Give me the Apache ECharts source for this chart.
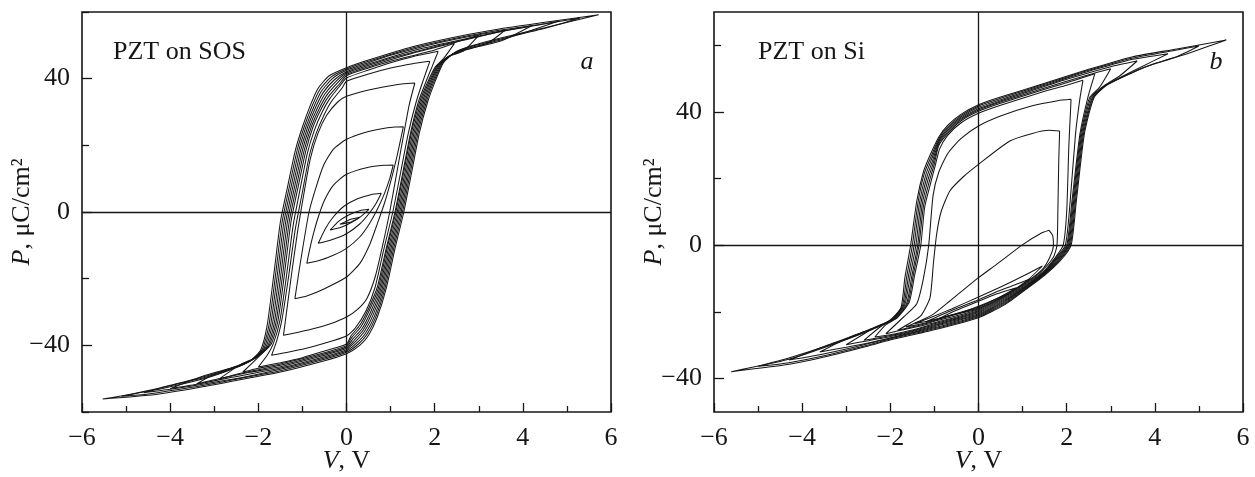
<!DOCTYPE html>
<html>
<head>
<meta charset="utf-8">
<script src="https://cdn.jsdelivr.net/npm/echarts@6/dist/echarts.min.js"></script>
<style>
html, body { margin: 0; padding: 0; background: #ffffff; }
#chart { width: 1255px; height: 477px; }
</style>
</head>
<body>
<div id="chart"></div>
<script>
// Axis ranges and tick labels
const xTicks = [-6, -4, -2, 0, 2, 4, 6];
const yLabelsA = [-40, 0, 40];
const yMinorA = [-60, -20, 20, 60];
const yLabelsB = [-40, 0, 40];
const yMinorB = [-20, 20, 60];
const panelTitles = ['PZT on SOS', 'PZT on Si'];
const panelLetters = ['a', 'b'];

// PZT on SOS: hysteresis loops, each listed as [V, P] going round the loop
// (upper branch from +Vmax to -Vmax, then lower branch back to +Vmax)
const sosLoop1 = [[5.72,59.2],[4.5,56.9],[3.5,55.0],[2.5,52.6],[1.5,49.6],[0.5,45.6],[0,43.3],[-0.4,40.8],[-0.65,37],[-0.83,31.7],[-1.0,25.5],[-1.16,18.5],[-1.33,8],[-1.5,-3],[-1.66,-20],[-1.8,-34],[-1.95,-41.5],[-2.2,-44.8],[-2.6,-47.2],[-3.2,-49.9],[-4.2,-53],[-5.53,-56.1],
  [-4.5,-55.0],[-3.5,-53.0],[-2.6,-50.8],[-1.5,-48.0],[-0.5,-44.6],[0,-42.5],[0.3,-40],[0.5,-37],[0.7,-31.5],[0.9,-23],[1.1,-11],[1.3,0],[1.48,12],[1.65,23.6],[1.84,33],[2.02,39.5],[2.2,44.8],[2.45,47.8],[2.8,49.7],[3.5,52.2],[4.5,55.3],[5.72,59.2]];
const sosLoop2 = [[5.3,58.2],[4.5,56.5],[3.5,54.6],[2.5,52.2],[1.5,49.2],[0.5,45.2],[0,42.9],[-0.36,40.4],[-0.61,36.6],[-0.79,31.5],[-0.96,25.5],[-1.12,18.5],[-1.29,8],[-1.46,-3],[-1.62,-20],[-1.76,-34],[-1.91,-41.2],[-2.16,-44.5],[-2.56,-46.9],[-3.2,-49.6],[-4.2,-52.7],[-5.1,-55.3],
  [-4.5,-54.6],[-3.5,-52.6],[-2.6,-50.4],[-1.5,-47.6],[-0.5,-44.2],[0,-42.1],[0.27,-39.6],[0.47,-36.6],[0.67,-31.3],[0.87,-23],[1.07,-11],[1.27,0],[1.45,12],[1.62,23.6],[1.81,33],[1.99,39.4],[2.17,44.6],[2.42,47.5],[2.77,49.4],[3.5,51.9],[4.5,55.1],[5.3,58.2]];
const sosLoop3 = [[4.8,57.2],[4.0,55.3],[3.0,53.2],[2.0,50.5],[1.0,47.0],[0.5,44.8],[0,42.5],[-0.32,40.0],[-0.57,36.2],[-0.75,31.3],[-0.92,25.5],[-1.08,18.5],[-1.25,8],[-1.42,-3],[-1.58,-20],[-1.72,-33.8],[-1.87,-40.9],[-2.12,-44.2],[-2.52,-46.6],[-3.2,-49.3],[-4.0,-52.0],[-4.6,-54.2],
  [-4.0,-53.2],[-3.0,-51.1],[-2.2,-49.2],[-1.5,-47.2],[-0.5,-43.8],[0,-41.7],[0.24,-39.2],[0.44,-36.2],[0.64,-31.1],[0.84,-23],[1.04,-11],[1.24,0],[1.42,12],[1.59,23.6],[1.78,33],[1.96,39.3],[2.14,44.4],[2.39,47.2],[2.74,49.1],[3.5,51.6],[4.2,54.5],[4.8,57.2]];
const sosLoop4 = [[4.2,55.9],[3.5,54.1],[2.5,51.4],[1.5,48.4],[0.5,44.4],[0,42.1],[-0.28,39.6],[-0.53,35.8],[-0.71,31.1],[-0.88,25.5],[-1.04,18.5],[-1.21,8],[-1.38,-3],[-1.54,-20],[-1.68,-33.6],[-1.83,-40.6],[-2.08,-43.9],[-2.48,-46.3],[-3.2,-49.0],[-4.0,-53.0],
  [-3.4,-51.7],[-2.6,-49.6],[-1.5,-46.8],[-0.5,-43.4],[0,-41.3],[0.21,-38.8],[0.41,-35.8],[0.61,-30.7],[0.81,-23],[1.01,-11],[1.21,0],[1.39,12],[1.56,23.6],[1.75,33],[1.93,39.2],[2.11,44.2],[2.36,47.0],[2.71,48.8],[3.5,51.3],[4.2,55.9]];
const sosLoop5 = [[3.6,54.6],[3.0,52.6],[2.0,49.6],[1.0,46.1],[0.5,44.0],[0,41.7],[-0.24,39.2],[-0.49,35.4],[-0.67,30.9],[-0.84,25.5],[-1.0,18.5],[-1.17,8],[-1.34,-3],[-1.5,-20],[-1.64,-33.4],[-1.79,-40.3],[-2.04,-43.6],[-2.44,-46.0],[-3.0,-48.6],[-3.4,-51.6],
  [-2.9,-50.0],[-2.2,-48.1],[-1.5,-46.4],[-0.5,-43.0],[0,-40.9],[0.18,-38.4],[0.38,-35.4],[0.58,-30.3],[0.78,-23],[0.98,-11],[1.18,0],[1.36,12],[1.53,23.6],[1.72,33],[1.9,39.1],[2.08,44.0],[2.33,46.8],[2.68,48.5],[3.2,50.6],[3.6,54.6]];
const sosLoop6 = [[3.0,53.0],[2.5,51.0],[1.5,47.6],[0.5,43.6],[0,41.3],[-0.2,38.8],[-0.45,35],[-0.63,30.7],[-0.8,25.5],[-0.96,18.5],[-1.13,8],[-1.3,-3],[-1.46,-20],[-1.6,-33.2],[-1.75,-40],[-2.0,-43.3],[-2.4,-45.7],[-2.9,-50.2],
  [-2.4,-48.4],[-1.5,-46.0],[-0.5,-42.6],[0,-40.5],[0.15,-38],[0.35,-35],[0.55,-29.9],[0.75,-23],[0.95,-11],[1.15,0],[1.33,12],[1.5,23.6],[1.69,33],[1.87,39.0],[2.05,43.8],[2.3,46.6],[2.65,48.3],[3.0,53.0]];
const sosLoop7 = [[2.45,50.6],[2.0,48.6],[1.0,45.2],[0.5,43.2],[0,40.9],[-0.16,38.4],[-0.41,34.6],[-0.59,30.5],[-0.76,25.5],[-0.92,18.5],[-1.09,8],[-1.26,-3],[-1.42,-20],[-1.56,-33],[-1.71,-39.7],[-1.96,-43],[-2.35,-48],
  [-2.0,-46.9],[-1.5,-45.6],[-0.5,-42.2],[0,-40.1],[0.12,-37.6],[0.32,-34.6],[0.52,-29.5],[0.72,-23],[0.92,-11],[1.12,0],[1.3,12],[1.47,23.6],[1.66,33],[1.84,38.9],[2.02,43.6],[2.2,46],[2.45,50.6]];
const sosLoop8 = [[2.08,48.2],[1.5,46.6],[1.0,44.8],[0.5,42.6],[0,40.2],[-0.14,38],[-0.38,34],[-0.56,29.8],[-0.73,24.5],[-0.89,17.5],[-1.05,7],[-1.21,-4],[-1.37,-20],[-1.51,-32.5],[-1.66,-39.5],[-1.8,-43],[-2.0,-46.5],
  [-1.5,-45.2],[-1.0,-43.7],[-0.5,-41.7],[0,-39.6],[0.1,-37.2],[0.3,-34],[0.5,-29],[0.7,-22.5],[0.9,-11],[1.1,0],[1.28,12],[1.45,23.5],[1.63,33],[1.8,39],[1.96,44.2],[2.08,48.2]];
const sosLoop9 = [[1.89,45.2],[1.5,44.5],[1.0,43.2],[0.5,41.4],[0,39.2],[-0.1,37.2],[-0.34,33.2],[-0.52,28.8],[-0.69,23.5],[-0.85,16.5],[-1.0,6],[-1.16,-5],[-1.32,-20],[-1.46,-32],[-1.58,-38.5],[-1.7,-43],
  [-1.4,-42.2],[-1.0,-41.2],[-0.5,-39.4],[0,-37.2],[0.2,-34.8],[0.45,-29.5],[0.65,-22.5],[0.85,-11],[1.05,0],[1.23,12],[1.4,23.5],[1.58,33],[1.74,39.5],[1.89,45.2]];
const sosLoop10 = [[1.55,38.7],[1.3,38.5],[1.0,37.9],[0.5,36.6],[0,34.7],[-0.2,33],[-0.45,29],[-0.65,23.5],[-0.82,16],[-0.96,6],[-1.1,-5],[-1.24,-18],[-1.35,-29],[-1.43,-37],
  [-1.2,-36.4],[-0.8,-35.2],[-0.4,-33.7],[0,-31.5],[0.25,-29.2],[0.46,-26],[0.65,-19.5],[0.82,-10],[0.98,0],[1.13,11],[1.28,22],[1.42,32],[1.55,38.7]];
const sosLoop11 = [[1.29,25.6],[1.1,25.5],[0.8,25.0],[0.4,23.8],[0,21.8],[-0.3,18.8],[-0.52,14],[-0.7,7],[-0.85,0],[-0.97,-9],[-1.08,-18],[-1.17,-26],
  [-0.9,-25.2],[-0.5,-23],[0,-19.5],[0.3,-15.5],[0.52,-10],[0.7,-3.5],[0.87,3],[1.02,10],[1.15,17],[1.24,22.5],[1.29,25.6]];
const sosLoop12 = [[1.06,14.1],[0.85,14.0],[0.5,13.4],[0,11.3],[-0.3,8.0],[-0.5,3.5],[-0.64,-1.5],[-0.76,-7],[-0.84,-11.5],[-0.9,-15.4],
  [-0.6,-14.5],[-0.3,-13],[0,-10.9],[0.3,-7.5],[0.52,-3.5],[0.7,0.8],[0.86,5.5],[0.98,10],[1.06,14.1]];
const sosLoop13 = [[0.79,5.6],[0.55,5.2],[0.25,4.0],[-0.05,1.8],[-0.3,-1.5],[-0.48,-5],[-0.64,-9.4],
  [-0.35,-8.4],[0,-6.5],[0.3,-3.6],[0.52,-0.3],[0.68,2.8],[0.79,5.6]];
const sosLoop14 = [[0.51,0.8],[0.3,0.4],[0.05,-0.9],[-0.18,-2.8],[-0.37,-5.4],
  [-0.12,-4.6],[0.12,-3.1],[0.33,-1.3],[0.51,0.8]];
const sosLoop15 = [[0.3,-1.6],[0.1,-2.2],[-0.15,-3.7],[0.08,-3.1],[0.3,-1.6]];

// PZT on Si: hysteresis loops in the same order of traversal
const siLoop1 = [[5.62,61.6],[4.5,58.9],[3.5,56.6],[2.5,52.8],[1.5,48.6],[0.5,44.5],[0,42.2],[-0.4,39.3],[-0.7,36],[-0.9,32.5],[-1.1,27],[-1.25,22],[-1.4,13.3],[-1.54,0],[-1.67,-9.7],[-1.76,-18.7],[-2.03,-22.7],[-2.5,-25.7],[-3.4,-30.2],[-4.3,-34.2],[-5.61,-37.9],
  [-4.3,-35.7],[-3.4,-33.2],[-2.5,-30.2],[-2.03,-28.5],[-1,-25.3],[0,-21.7],[0.6,-17.8],[1.13,-12.7],[1.5,-9],[1.85,-4.7],[2.1,0],[2.22,13.3],[2.4,33.3],[2.62,44.3],[2.94,48.3],[3.84,53.8],[4.8,57.8],[5.62,61.6]];
const siLoop2 = [[5.0,59.8],[4.5,58.6],[3.5,56.2],[2.5,52.5],[1.5,48.3],[0.5,44.1],[0,41.8],[-0.4,38.9],[-0.7,35.5],[-0.9,32],[-1.08,26.5],[-1.23,21.5],[-1.37,13],[-1.5,0],[-1.63,-9.5],[-1.73,-18.3],[-2.0,-22.5],[-2.5,-25.6],[-3.4,-30],[-4.3,-33.8],[-5.0,-36.3],
  [-4.3,-35.2],[-3.4,-32.8],[-2.5,-29.9],[-2.0,-28.1],[-1,-25],[0,-21.4],[0.6,-17.5],[1.13,-12.5],[1.5,-8.8],[1.83,-4.6],[2.08,0],[2.2,13.3],[2.38,33.3],[2.6,44.3],[2.92,48.2],[3.8,53.6],[4.5,56.6],[5.0,59.8]];
const siLoop3 = [[4.3,57.5],[3.5,55.8],[2.5,52.2],[1.5,48.0],[0.5,43.7],[0,41.4],[-0.4,38.5],[-0.7,35],[-0.9,31.5],[-1.06,26],[-1.2,21],[-1.34,12.7],[-1.46,0],[-1.59,-9.3],[-1.7,-18],[-1.97,-22.3],[-2.5,-25.5],[-3.4,-29.8],[-4.3,-34.4],
  [-3.6,-32.8],[-2.8,-30.5],[-2.0,-27.8],[-1,-24.7],[0,-21.1],[0.6,-17.2],[1.13,-12.3],[1.5,-8.6],[1.81,-4.5],[2.06,0],[2.18,13.3],[2.36,33.3],[2.58,44.3],[2.9,48.1],[3.6,52.9],[4.3,57.5]];
const siLoop4 = [[3.6,55.3],[3.0,53.6],[2.0,49.8],[1.0,45.5],[0.5,43.3],[0,41.0],[-0.4,38.1],[-0.7,34.5],[-0.9,31],[-1.04,25.5],[-1.17,20.5],[-1.31,12.3],[-1.42,0],[-1.55,-9.1],[-1.67,-17.7],[-1.94,-22.1],[-2.5,-25.4],[-3.0,-28],[-3.6,-32],
  [-3.0,-30.6],[-2.4,-29],[-1.7,-26.8],[-1,-24.4],[0,-20.8],[0.6,-16.9],[1.13,-12.1],[1.5,-8.4],[1.79,-4.4],[2.04,0],[2.16,13.3],[2.34,33.3],[2.55,44.3],[2.85,47.9],[3.2,50.8],[3.6,55.3]];
const siLoop5 = [[3.0,53.0],[2.5,51.2],[1.5,47.2],[0.5,43.0],[0,40.6],[-0.4,37.7],[-0.7,34],[-0.9,30.5],[-1.02,25],[-1.14,20],[-1.28,12],[-1.38,0],[-1.51,-9],[-1.63,-17.4],[-1.9,-21.9],[-2.4,-25],[-3.0,-29.8],
  [-2.5,-28.6],[-1.8,-26.8],[-1,-24.1],[0,-20.5],[0.6,-16.6],[1.13,-11.9],[1.5,-8.2],[1.77,-4.3],[2.02,0],[2.14,13.3],[2.32,33.3],[2.52,44.3],[2.75,47.5],[3.0,53.0]];
const siLoop6 = [[2.64,51.5],[2.2,49.6],[1.5,46.8],[0.5,42.6],[0,40.2],[-0.4,37.3],[-0.7,33.5],[-0.9,30],[-1.0,24.5],[-1.11,19.5],[-1.25,11.7],[-1.35,0],[-1.48,-9],[-1.6,-17.2],[-1.87,-21.8],[-2.2,-24.2],[-2.6,-28.5],
  [-2.2,-27.6],[-1.6,-26],[-1,-23.8],[0,-20.2],[0.6,-16.3],[1.13,-11.7],[1.5,-8],[1.75,-4.2],[2.0,0],[2.12,13.3],[2.3,33.3],[2.48,44.3],[2.64,51.5]];
const siLoop7 = [[2.37,49.5],[2.0,48],[1.5,46.2],[0.5,42.0],[0,39.6],[-0.4,36.7],[-0.7,33],[-0.88,29],[-0.98,24],[-1.08,19],[-1.22,11.5],[-1.31,0],[-1.45,-9],[-1.57,-17],[-1.84,-21.7],[-2.1,-23.8],[-2.35,-27.5],
  [-2.0,-26.8],[-1.5,-25.4],[-1,-23.5],[0,-19.9],[0.6,-16],[1.13,-11.5],[1.5,-7.8],[1.73,-4.1],[1.97,0],[2.08,13.3],[2.2,33.3],[2.3,44],[2.37,49.5]];
const siLoop8 = [[2.1,43.8],[1.8,43.4],[1.2,41.8],[0.5,38.8],[0,35.8],[-0.4,32],[-0.7,27.5],[-0.9,22],[-1.03,15],[-1.13,0],[-1.25,-10],[-1.4,-17.5],[-1.7,-21.5],[-2.1,-26.5],
  [-1.6,-25],[-1,-23.2],[0,-19.6],[0.6,-15.7],[1.13,-11.2],[1.5,-7.5],[1.75,-3.5],[1.92,0],[2.0,10],[2.05,30],[2.1,43.8]];
const siLoop9 = [[1.84,34.3],[1.6,34.5],[1.2,33.5],[0.71,31.3],[0,24.3],[-0.35,20.5],[-0.65,16.3],[-0.85,10],[-0.95,3.3],[-1.02,-5],[-1.1,-15.7],[-1.3,-21],[-1.55,-23.3],[-1.84,-25.5],
  [-1.4,-24.2],[-1,-22.8],[0,-19.3],[0.6,-15.4],[1.13,-10.9],[1.45,-7.5],[1.7,-3.5],[1.78,0],[1.8,10],[1.82,25],[1.84,34.3]];
const siLoop10 = [[1.6,4.5],[1.4,3.5],[1.01,0.3],[0.41,-5.7],[0,-9.7],[-0.65,-16.7],[-1.03,-20.7],[-1.35,-22.8],[-1.65,-24.5],
  [-1.2,-23.3],[-0.6,-21],[0,-19],[0.6,-15.2],[1.13,-10.6],[1.45,-7.2],[1.62,-3.5],[1.7,0],[1.68,3],[1.6,4.5]];
const siLoop11 = [[1.45,-6.2],[1.0,-9.3],[0.5,-12.5],[0,-15.5],[-0.6,-19],[-1.0,-21.2],[-1.45,-23.5],
  [-1.0,-22.3],[-0.5,-20.5],[0,-18.8],[0.6,-15],[1.1,-10.6],[1.45,-6.2]];
const siLoop12 = [[1.18,-10],[0.8,-12],[0.4,-14],[0,-16.3],[-0.6,-19.5],[-1.2,-23],
  [-0.6,-20.8],[0,-18.5],[0.6,-14.8],[1.0,-11.8],[1.18,-10]];
const siLoop13 = [[0.86,-12.7],[0.4,-14.6],[0,-16.8],[-0.5,-19.5],[-0.9,-22],
  [-0.4,-20.2],[0,-18.3],[0.5,-15.4],[0.86,-12.7]];

const sosLoops = [sosLoop1, sosLoop2, sosLoop3, sosLoop4, sosLoop5, sosLoop6, sosLoop7, sosLoop8,
  sosLoop9, sosLoop10, sosLoop11, sosLoop12, sosLoop13, sosLoop14, sosLoop15];
const siLoops = [siLoop1, siLoop2, siLoop3, siLoop4, siLoop5, siLoop6, siLoop7, siLoop8,
  siLoop9, siLoop10, siLoop11, siLoop12, siLoop13];

const INK = '#161616';
const SERIF = '"Liberation Serif", "Times New Roman", serif';
const FS = 26;

const minus = v => String(v).replace('-', '\u2212');

const grids = [
  { left: 82, top: 12, width: 529, height: 400 },
  { left: 714, top: 12, width: 529, height: 400 }
];

function xAxisFor(i) {
  return {
    gridIndex: i, type: 'value', min: xTicks[0], max: xTicks[xTicks.length - 1], interval: 2,
    axisLine: { show: false, onZero: false }, splitLine: { show: false },
    axisTick: { inside: true, length: 9, lineStyle: { color: INK, width: 1.3 } },
    minorTick: { show: true, splitNumber: 2, length: 6, lineStyle: { color: INK, width: 1.3 } },
    axisLabel: { formatter: minus, fontFamily: SERIF, fontSize: FS, color: INK, margin: 13 },
    name: '{i|V}, V', nameLocation: 'middle', nameGap: 36, nameMoveOverlap: false,
    nameTextStyle: { fontFamily: SERIF, fontSize: FS, color: INK,
      rich: { i: { fontFamily: SERIF, fontSize: FS, fontStyle: 'italic', color: INK } } }
  };
}

function yAxisFor(i, min, max, labels, minors) {
  return [{
    gridIndex: i, type: 'value', min: min, max: max, position: 'left',
    axisLine: { show: false, onZero: false }, splitLine: { show: false },
    axisTick: { inside: true, length: 10, customValues: labels, lineStyle: { color: INK, width: 1.3 } },
    axisLabel: { customValues: labels, formatter: minus, fontFamily: SERIF, fontSize: FS, color: INK, margin: 12 },
    name: '{i|P}, \u03bcC/cm\u00b2', nameLocation: 'middle', nameGap: 47, nameMoveOverlap: false,
    nameTextStyle: { fontFamily: SERIF, fontSize: FS, color: INK,
      rich: { i: { fontFamily: SERIF, fontSize: FS, fontStyle: 'italic', color: INK } } }
  }, {
    gridIndex: i, type: 'value', min: min, max: max, position: 'left',
    axisLine: { show: false, onZero: false }, splitLine: { show: false },
    axisTick: { inside: true, length: 7, customValues: minors, lineStyle: { color: INK, width: 1.3 } },
    axisLabel: { show: false }
  }];
}

function loopSeries(loops, gridIdx, yIdx) {
  return loops.map((pts, k) => ({
    type: 'line', xAxisIndex: gridIdx, yAxisIndex: yIdx, data: pts,
    showSymbol: false, symbol: 'none', smooth: 0.2, silent: true, z: 3,
    lineStyle: { color: INK, width: 1.05 },
    markLine: k === 0 ? {
      silent: true, symbol: ['none', 'none'], label: { show: false },
      lineStyle: { color: INK, width: 1.3, type: 'solid' },
      data: [{ xAxis: 0 }, { yAxis: 0 }]
    } : undefined
  }));
}

const chart = echarts.init(document.getElementById('chart'), null, { renderer: 'canvas' });
chart.setOption({
  animation: false,
  backgroundColor: '#ffffff',
  grid: grids.map(g => Object.assign({ show: true, borderColor: INK, borderWidth: 1.6, containLabel: false, outerBoundsMode: 'none' }, g)),
  xAxis: [xAxisFor(0), xAxisFor(1)],
  yAxis: [].concat(yAxisFor(0, -60, 60, yLabelsA, yMinorA), yAxisFor(1, -50, 70, yLabelsB, yMinorB)),
  series: [].concat(loopSeries(sosLoops, 0, 0), loopSeries(siLoops, 1, 2)),
  graphic: [
    { type: 'text', x: 113, y: 52, style: { text: panelTitles[0], font: FS + 'px ' + SERIF, fill: INK, verticalAlign: 'middle' } },
    { type: 'text', x: 758, y: 52, style: { text: panelTitles[1], font: FS + 'px ' + SERIF, fill: INK, verticalAlign: 'middle' } },
    { type: 'text', x: 587, y: 62, style: { text: panelLetters[0], font: 'italic ' + FS + 'px ' + SERIF, fill: INK, align: 'center', verticalAlign: 'middle' } },
    { type: 'text', x: 1216, y: 62, style: { text: panelLetters[1], font: 'italic ' + FS + 'px ' + SERIF, fill: INK, align: 'center', verticalAlign: 'middle' } }
  ]
});
</script>
</body>
</html>
